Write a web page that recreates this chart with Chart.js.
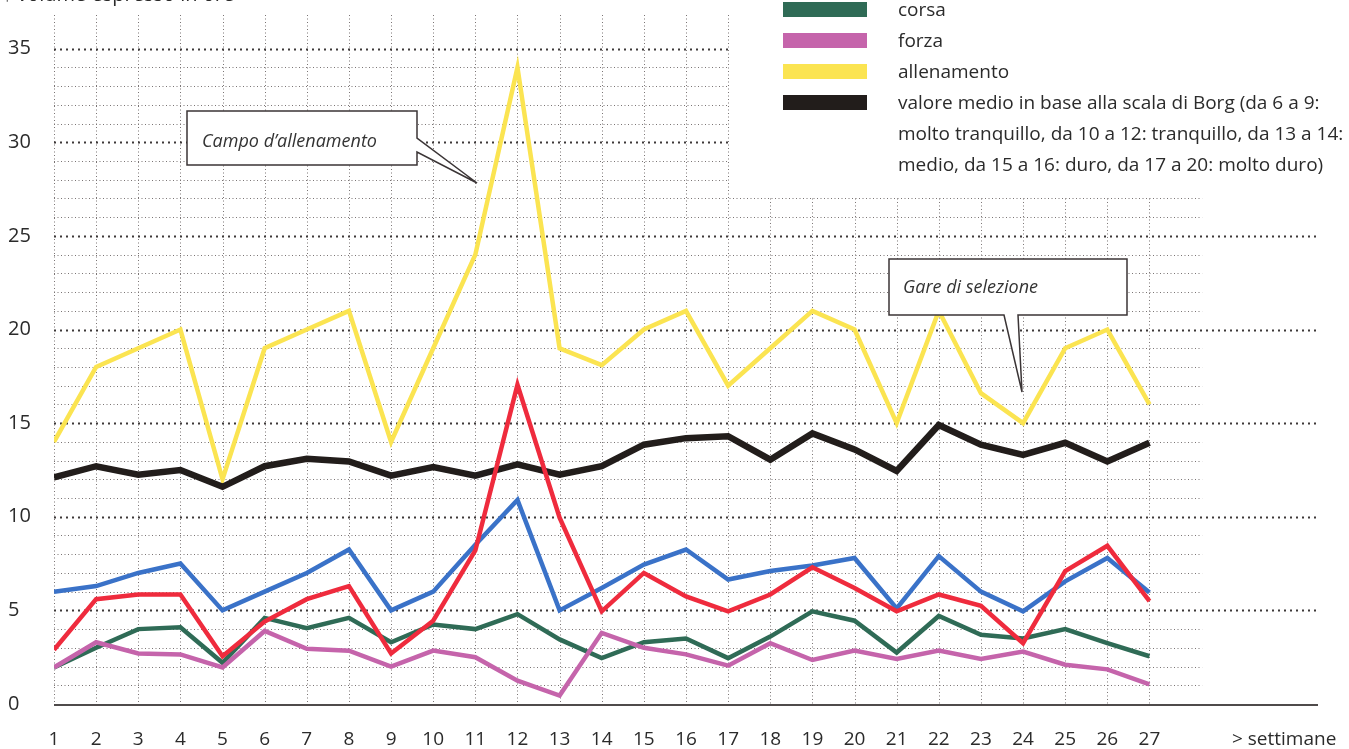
<!DOCTYPE html>
<html lang="it">
<head>
<meta charset="utf-8">
<title>Volume di allenamento</title>
<script src="https://cdn.jsdelivr.net/npm/chart.js@4.4.1/dist/chart.umd.min.js"></script>
<style>
  html, body { margin: 0; padding: 0; background: #ffffff; overflow: hidden; }
  #wrap { position: relative; width: 1349px; height: 749px; overflow: hidden; font-family: 'Open Sans', sans-serif; color: #2b2b2b; }
  #chart { position: absolute; left: 0; top: 0; }
  #title { position: absolute; left: 2px; top: -16px; font-size: 20px; line-height: 20px; white-space: nowrap; }
  #legend { position: absolute; left: 783px; top: -6px; }
  .row { position: relative; height: 31px; line-height: 31px; font-size: 19px; white-space: nowrap; }
  .sw { position: absolute; left: 0; top: 8px; width: 84px; height: 15px; }
  .lt { position: absolute; left: 115px; top: 0; }
  #unitx { position: absolute; left: 1232px; top: 726px; font-size: 19px; line-height: 24px; white-space: nowrap; }
  #notes { position: absolute; left: 0; top: 0; pointer-events: none; }
  #notes text { font-family: 'Open Sans', sans-serif; font-style: italic; font-size: 18px; fill: #333; }
</style>
</head>
<body>
<div id="wrap">
  <canvas id="chart" width="1349" height="749"></canvas>
  <div id="title">↑ volume espresso in ore</div>
  <div id="legend"></div>
  <div id="unitx">&gt; settimane</div>
  <svg id="notes" width="1349" height="749" viewBox="0 0 1349 749">
    <path d="M187,111 H417 V138 L477,183 L417,152 V165 H187 Z" fill="#ffffff" stroke="#3b3536" stroke-width="1.5"/>
    <text x="202" y="147">Campo d’allenamento</text>
    <path d="M889,259 H1127 V315 H1018 L1022,392 L1004,315 H889 Z" fill="#ffffff" stroke="#3b3536" stroke-width="1.5"/>
    <text x="903" y="293">Gare di selezione</text>
  </svg>
</div>
<script>
// ---- data ----
const weeks = [1,2,3,4,5,6,7,8,9,10,11,12,13,14,15,16,17,18,19,20,21,22,23,24,25,26,27];
const xLabels = ['1','2','3','4','5','6','7','8','9','10','11','12','13','14','15','16','17','18','19','20','21','22','23','24','25','26','27'];
const yTickValues = [0,5,10,15,20,25,30,35];

const serieBlu   = [6.0, 6.3, 7.0, 7.5, 5.0, 6.0, 7.0, 8.25, 5.0, 6.0, 8.5, 10.9, 5.0, 6.2, 7.45, 8.25, 6.65, 7.1, 7.4, 7.8, 5.1, 7.9, 6.0, 4.95, 6.55, 7.8, 5.95];
const serieRossa = [2.9, 5.6, 5.85, 5.85, 2.55, 4.4, 5.6, 6.3, 2.7, 4.45, 8.2, 17.05, 9.95, 4.95, 7.0, 5.75, 4.95, 5.85, 7.3, 6.2, 4.95, 5.85, 5.25, 3.25, 7.1, 8.45, 5.5];
const corsa      = [1.95, 3.0, 4.0, 4.1, 2.2, 4.6, 4.05, 4.6, 3.3, 4.25, 4.0, 4.8, 3.45, 2.45, 3.3, 3.5, 2.45, 3.6, 4.95, 4.45, 2.75, 4.7, 3.7, 3.5, 4.0, 3.25, 2.55];
const forza      = [1.95, 3.3, 2.7, 2.65, 1.95, 3.9, 2.95, 2.85, 2.0, 2.85, 2.5, 1.25, 0.45, 3.8, 3.0, 2.65, 2.05, 3.25, 2.35, 2.85, 2.4, 2.85, 2.4, 2.8, 2.1, 1.85, 1.05];
const allenamento= [14, 18, 19, 20, 12, 19, 20, 21, 14, 19, 24, 34, 19, 18.1, 20, 21, 17, 19, 21, 20, 15, 21, 16.6, 15, 19, 20, 16];
const borg       = [12.1, 12.7, 12.25, 12.5, 11.6, 12.7, 13.1, 12.95, 12.2, 12.65, 12.2, 12.8, 12.25, 12.7, 13.85, 14.2, 14.3, 13.05, 14.45, 13.6, 12.45, 14.9, 13.85, 13.3, 13.95, 12.95, 13.95];

const legendNames = ['corsa', 'forza', 'allenamento', 'valore medio in base alla scala di Borg (da 6 a 9:<br>molto tranquillo, da 10 a 12: tranquillo, da 13 a 14:<br>medio, da 15 a 16: duro, da 17 a 20: molto duro)'];
const legendColors = ['#2f6b56', '#c564ab', '#fbe451', '#221d1b'];

// ---- grid layout settings ----
const gridCfg = { fullHeightLastWeek: 17, lowRegionTop: 27, minorRight: 28.25, xMax: 31, yMax: 36.8 };

// legend
const lg = document.getElementById('legend');
legendNames.forEach((n, i) => {
  const r = document.createElement('div');
  r.className = 'row';
  r.innerHTML = '<div class="sw" style="background:' + legendColors[i] + '"></div><div class="lt">' + n + '</div>';
  lg.appendChild(r);
});

const toXY = arr => weeks.map((w, i) => ({ x: w, y: arr[i] }));

const paperGrid = {
  id: 'paperGrid',
  beforeDatasetsDraw(chart) {
    const { ctx, scales: { x, y }, chartArea } = chart;
    ctx.save();
    // vertical dotted lines
    ctx.strokeStyle = '#7a7474';
    ctx.lineWidth = 1;
    ctx.setLineDash([1, 2.5]);
    weeks.forEach(w => {
      const px = Math.round(x.getPixelForValue(w)) + 0.5;
      const top = w <= gridCfg.fullHeightLastWeek ? chartArea.top : y.getPixelForValue(gridCfg.lowRegionTop);
      ctx.beginPath();
      ctx.moveTo(px, top);
      ctx.lineTo(px, y.getPixelForValue(0));
      ctx.stroke();
    });
    // horizontal lines
    const left = x.getPixelForValue(weeks[0]);
    for (let v = 1; v <= 35; v++) {
      const major = v % 5 === 0;
      let rightVal;
      if (v > gridCfg.lowRegionTop) rightVal = gridCfg.fullHeightLastWeek;
      else rightVal = major ? gridCfg.xMax : gridCfg.minorRight;
      const py = Math.round(y.getPixelForValue(v)) + 0.5;
      ctx.beginPath();
      if (major) {
        ctx.strokeStyle = '#3d3838';
        ctx.lineWidth = 2;
        ctx.setLineDash([2, 4]);
      } else {
        ctx.strokeStyle = '#7a7474';
        ctx.lineWidth = 1;
        ctx.setLineDash([1, 2.5]);
      }
      ctx.moveTo(left, py);
      ctx.lineTo(x.getPixelForValue(rightVal), py);
      ctx.stroke();
    }
    // base axis line
    ctx.setLineDash([]);
    ctx.strokeStyle = '#4f4b4b';
    ctx.lineWidth = 2;
    const by = y.getPixelForValue(0) + 1;
    ctx.beginPath();
    ctx.moveTo(left, by);
    ctx.lineTo(x.getPixelForValue(gridCfg.xMax), by);
    ctx.stroke();
    ctx.restore();
  }
};

Chart.defaults.font.family = "'Open Sans', sans-serif";
Chart.defaults.color = '#2b2b2b';

const lineDs = (label, data, color, width) => ({
  label, data: toXY(data), borderColor: color, backgroundColor: color,
  borderWidth: width, pointRadius: 0, tension: 0, fill: false,
  borderJoinStyle: 'miter', borderCapStyle: 'butt'
});

new Chart(document.getElementById('chart'), {
  type: 'line',
  data: {
    datasets: [
      lineDs('serie rossa', serieRossa, '#ef2b3d', 4.5),
      lineDs('forza', forza, '#c564ab', 4.5),
      lineDs('corsa', corsa, '#2f6b56', 4.5),
      lineDs('serie blu', serieBlu, '#3a72c8', 4.5),
      lineDs('valore medio Borg', borg, '#221d1b', 6.5),
      lineDs('allenamento', allenamento, '#fbe451', 4.5)
    ]
  },
  options: {
    responsive: false,
    animation: false,
    events: [],
    layout: { padding: { left: 8, top: 15, right: 31, bottom: 0 } },
    plugins: { legend: { display: false }, tooltip: { enabled: false }, title: { display: false } },
    scales: {
      x: {
        type: 'linear', min: 1, max: gridCfg.xMax,
        grid: { display: false, drawTicks: false },
        border: { display: false },
        afterBuildTicks: s => { s.ticks = weeks.map(v => ({ value: v })); },
        afterFit: s => { s.height = 45; },
        ticks: {
          autoSkip: false, maxRotation: 0, padding: 24,
          font: { size: 19 }, color: '#2b2b2b',
          callback: v => { const i = weeks.indexOf(v); return i >= 0 ? xLabels[i] : ''; }
        }
      },
      y: {
        min: 0, max: gridCfg.yMax,
        grid: { display: false, drawTicks: false },
        border: { display: false },
        afterBuildTicks: s => { s.ticks = yTickValues.map(v => ({ value: v })); },
        afterFit: s => { s.width = 46; },
        ticks: { crossAlign: 'far', padding: 0, font: { size: 20 }, color: '#2b2b2b' }
      }
    }
  },
  plugins: [paperGrid]
});
</script>
</body>
</html>
